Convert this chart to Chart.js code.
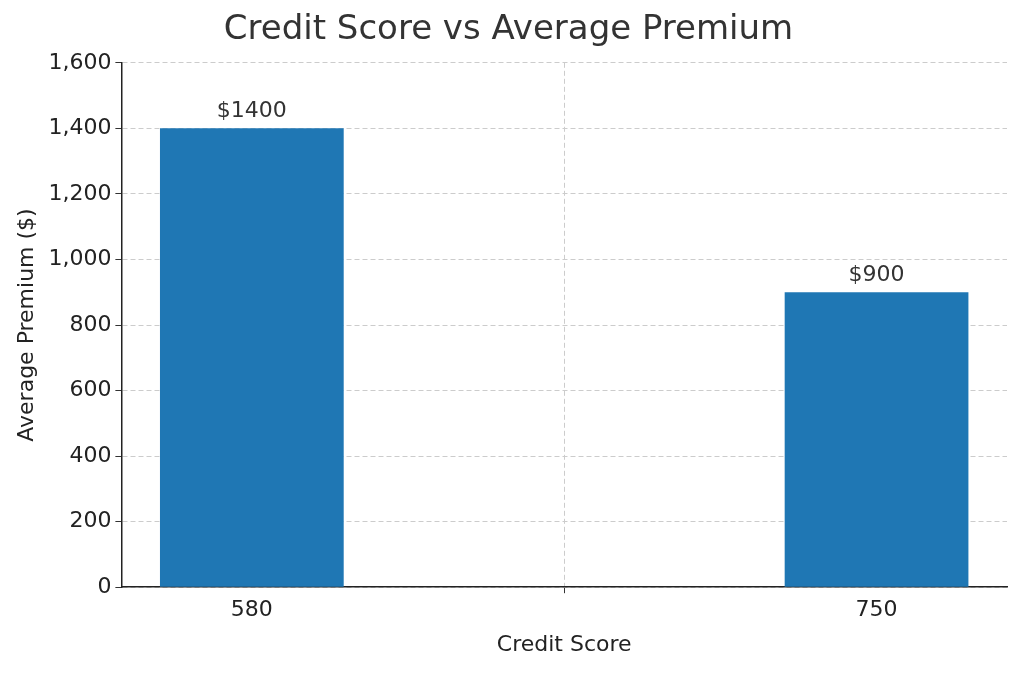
<!DOCTYPE html>
<html>
<head>
<meta charset="utf-8">
<script src="https://cdn.jsdelivr.net/npm/chart.js@4"></script>
<style>
  html, body { margin: 0; padding: 0; background: #fff; }
  #wrap { width: 1024px; height: 677px; }
</style>
</head>
<body>
<div id="wrap"><canvas id="c"></canvas></div>
<script>
// data
var creditScores = [580, 750];
var premiums = [1400, 900];
var yTicks = [0, 200, 400, 600, 800, 1000, 1200, 1400, 1600];
var barWidthUnits = 50;

var points = creditScores.map(function(x, i) { return { x: x, y: premiums[i] }; });

var valueLabels = {
  id: 'valueLabels',
  afterDatasetsDraw: function(chart) {
    var ctx = chart.ctx;
    var meta = chart.getDatasetMeta(0);
    ctx.save();
    ctx.font = '22px "DejaVu Sans"';
    ctx.fillStyle = '#333';
    ctx.textAlign = 'center';
    ctx.textBaseline = 'bottom';
    meta.data.forEach(function(bar, i) {
      ctx.fillText('$' + premiums[i], bar.x, bar.y - 6);
    });
    ctx.restore();
  }
};

var gridCommon = { color: '#cccccc', lineWidth: 1, drawTicks: true, tickColor: '#333', tickLength: 6 };

new Chart(document.getElementById('c'), {
  type: 'bar',
  data: {
    datasets: [{
      data: points,
      backgroundColor: '#1f77b4',
      barPercentage: barWidthUnits / (creditScores[1] - creditScores[0]),
      categoryPercentage: 1
    }]
  },
  options: {
    responsive: true,
    maintainAspectRatio: false,
    animation: false,
    layout: { padding: { left: 10, right: 17, top: 10, bottom: 15 } },
    plugins: {
      legend: { display: false },
      tooltip: { enabled: false },
      title: {
        display: true,
        text: 'Credit Score vs Average Premium',
        color: '#333',
        font: { family: 'DejaVu Sans', size: 34, weight: 'normal' },
        padding: { top: 0, bottom: 12 }
      }
    },
    scales: {
      x: {
        type: 'linear',
        min: 544.5,
        max: 785.5,
        offset: false,
        afterBuildTicks: function(axis) { axis.ticks = creditScores.map(function(v) { return { value: v }; }); },
        ticks: { color: '#222', font: { family: 'DejaVu Sans', size: 22 }, padding: 4 },
        grid: Object.assign({ borderDash: [5, 3] }, gridCommon),
        border: { color: '#222', width: 1.5, dash: [5, 3] },
        title: { display: true, text: 'Credit Score', color: '#222', font: { family: 'DejaVu Sans', size: 22 }, padding: { top: 4 } }
      },
      y: {
        min: 0,
        max: 1600,
        afterBuildTicks: function(axis) { axis.ticks = yTicks.map(function(v) { return { value: v }; }); },
        ticks: { color: '#222', font: { family: 'DejaVu Sans', size: 22 }, padding: 4 },
        grid: gridCommon,
        border: { color: '#222', width: 1.5, dash: [5, 3] },
        title: { display: true, text: 'Average Premium ($)', color: '#222', font: { family: 'DejaVu Sans', size: 22 } }
      }
    }
  },
  plugins: [valueLabels]
});
</script>
</body>
</html>
